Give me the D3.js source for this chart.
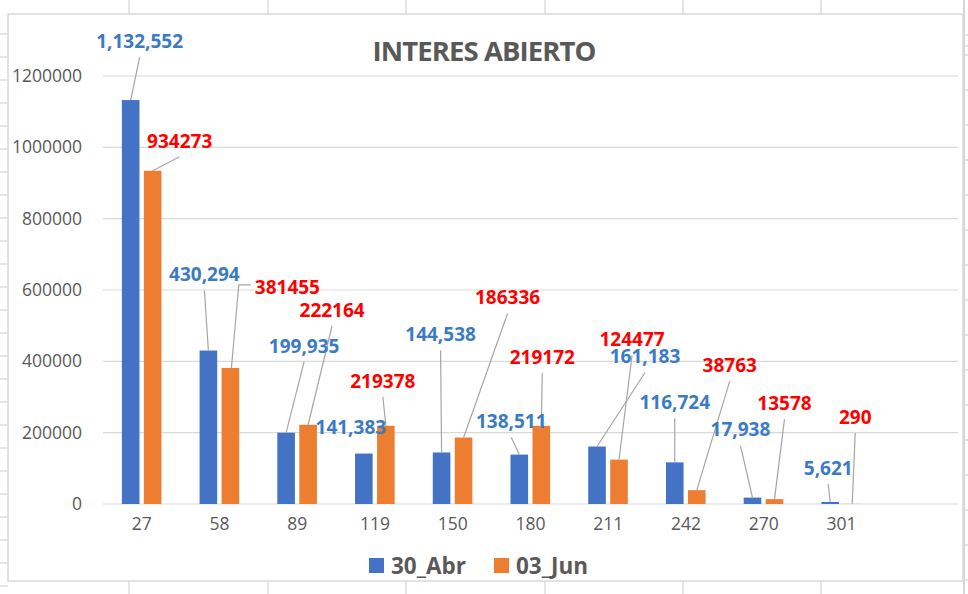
<!DOCTYPE html>
<html>
<head>
<meta charset="utf-8">
<script src="https://cdn.jsdelivr.net/npm/d3@7"></script>
<style>
  html, body { margin: 0; padding: 0; background: #fff; }
  svg { display: block; }
</style>
</head>
<body>
<svg id="chart" width="968" height="594"></svg>
<script>
// ---- data ----
const categories = ["27", "58", "89", "119", "150", "180", "211", "242", "270", "301"];
const seriesNames = ["30_Abr", "03_Jun"];
const abrValues = [1132552, 430294, 199935, 141383, 144538, 138511, 161183, 116724, 17938, 5621];
const junValues = [934273, 381455, 222164, 219378, 186336, 219172, 124477, 38763, 13578, 290];
const yTickValues = [0, 200000, 400000, 600000, 800000, 1000000, 1200000];
const titleText = "INTERES ABIERTO";

// ---- label layout (pixel offsets from bar top centre) ----
const abrLabelOffsets = [[9, -59], [-4, -76], [18, -87], [-13, -26], [-1, -118], [-8, -33], [48, -90], [0, -60], [-12, -68], [-2, -34]];
const junLabelOffsets = [[27, -30], [57, -81], [24, -115], [-3, -45], [44, -140], [1, -69], [13, -120], [33, -125], [10, -96], [3, -87]];
const abrLeaderModes = ["b", "b", "b", "none", "b", "b", "b", "b", "b", "b"];
const junLeaderModes = ["b", "side", "b", "b", "b", "b", "b", "b", "b", "b"];

const colors = { "30_Abr": "#4472C4", "03_Jun": "#ED7D31" };
const labelColors = { "30_Abr": "#3A7BC3", "03_Jun": "#FF0000" };
const FONT = "'Open Sans', 'Liberation Sans', sans-serif";

const svg = d3.select("#chart");

// ---- spreadsheet background lines ----
const sheet = svg.append("g").attr("stroke", "#d6d6d6").attr("stroke-width", 1.2);
const colXs = [129, 268, 406, 545, 683, 821];
colXs.forEach(x => {
  sheet.append("line").attr("x1", x).attr("x2", x).attr("y1", 0).attr("y2", 14);
  sheet.append("line").attr("x1", x).attr("x2", x).attr("y1", 581).attr("y2", 594);
});
sheet.append("line").attr("x1", 964).attr("x2", 964).attr("y1", 0).attr("y2", 594).attr("stroke-width", 2);
[35, 46, 55].concat(d3.range(90, 594, 35)).forEach(y => {
  sheet.append("line").attr("x1", 964).attr("x2", 968).attr("y1", y).attr("y2", y);
});
d3.range(34, 594, 23).forEach(y => {
  sheet.append("line").attr("x1", 0).attr("x2", 8).attr("y1", y).attr("y2", y);
});

// chart border
svg.append("rect").attr("x", 8).attr("y", 14).attr("width", 955).attr("height", 567)
  .attr("fill", "#fff").attr("stroke", "#d9d9d9").attr("stroke-width", 1.5);

// ---- scales ----
const plotLeft = 103, plotRight = 958, plotTop = 76, plotBottom = 504;
const x = d3.scaleBand().domain(categories.concat([" "])).range([plotLeft, plotRight]).padding(0);
const inner = d3.scaleBand().domain(seriesNames).range([-20, 19.6]).paddingInner(0.2).paddingOuter(0);
const y = d3.scaleLinear().domain([0, 1200000]).range([plotBottom, plotTop]);

// gridlines
svg.append("g").selectAll("line").data(yTickValues).join("line")
  .attr("x1", plotLeft).attr("x2", plotRight)
  .attr("y1", d => y(d)).attr("y2", d => y(d))
  .attr("stroke", "#d9d9d9").attr("stroke-width", 1.2);

// y axis labels
const yAxis = d3.axisLeft(y).tickValues(yTickValues).tickFormat(d3.format("d")).tickSize(0).tickPadding(0);
const yg = svg.append("g").attr("transform", "translate(82,0)").call(yAxis);
yg.select(".domain").remove();
yg.selectAll("text").attr("font-family", FONT).attr("font-size", 17.5).attr("fill", "#595959");

// x axis labels
const xAxis = d3.axisBottom(x).tickValues(categories).tickSize(0).tickPadding(0);
const xg = svg.append("g").attr("transform", "translate(0,518)").call(xAxis);
xg.select(".domain").remove();
xg.selectAll("text").attr("font-family", FONT).attr("font-size", 17.5).attr("fill", "#595959");

// ---- bars ----
const rows = [];
categories.forEach((c, i) => {
  rows.push({ cat: c, s: "30_Abr", v: abrValues[i], off: abrLabelOffsets[i], mode: abrLeaderModes[i], txt: d3.format(",")(abrValues[i]) });
  rows.push({ cat: c, s: "03_Jun", v: junValues[i], off: junLabelOffsets[i], mode: junLeaderModes[i], txt: String(junValues[i]) });
});

svg.append("g").selectAll("rect").data(rows).join("rect")
  .attr("x", d => x(d.cat) + x.bandwidth() / 2 + inner(d.s))
  .attr("width", inner.bandwidth())
  .attr("y", d => y(d.v))
  .attr("height", d => y(0) - y(d.v))
  .attr("fill", d => colors[d.s]);

// ---- data labels & leader lines ----
const lg = svg.append("g");
const tg = svg.append("g");
rows.forEach(d => {
  const bx = x(d.cat) + x.bandwidth() / 2 + inner(d.s) + inner.bandwidth() / 2;
  const by = y(d.v);
  const lx = bx + d.off[0], ly = by + d.off[1];
  const t = tg.append("text").attr("x", lx).attr("y", ly).attr("dy", "0.36em")
    .attr("text-anchor", "middle").attr("font-family", FONT).attr("font-weight", 700)
    .attr("font-size", 19).attr("fill", labelColors[d.s]).text(d.txt);
  if (d.mode === "b") {
    lg.append("line").attr("x1", lx).attr("y1", ly + 16).attr("x2", bx).attr("y2", by)
      .attr("stroke", "#a6a6a6").attr("stroke-width", 1.2);
  } else if (d.mode === "side") {
    const w = t.node().getComputedTextLength();
    const sx = lx - w / 2 - 4;
    lg.append("polyline").attr("points", [[sx, ly - 2], [sx - 12, ly - 2], [bx + 1, by]].map(p => p.join(",")).join(" "))
      .attr("fill", "none").attr("stroke", "#a6a6a6").attr("stroke-width", 1.2);
  }
});

// ---- title ----
svg.append("text").attr("x", 484).attr("y", 61).attr("text-anchor", "middle")
  .attr("font-family", FONT).attr("font-weight", 700).attr("font-size", 27.5)
  .attr("letter-spacing", -0.9).attr("fill", "#595959").text(titleText);

// ---- legend ----
const legendItems = [{ s: "30_Abr", x: 369 }, { s: "03_Jun", x: 494 }];
const leg = svg.append("g").selectAll("g").data(legendItems).join("g")
  .attr("transform", d => `translate(${d.x},558)`);
leg.append("rect").attr("width", 15).attr("height", 15).attr("fill", d => colors[d.s]);
leg.append("text").attr("x", 22).attr("y", 7.5).attr("dy", "0.36em")
  .attr("font-family", FONT).attr("font-weight", 700).attr("font-size", 22.5)
  .attr("fill", "#595959").text(d => d.s);
</script>
</body>
</html>
